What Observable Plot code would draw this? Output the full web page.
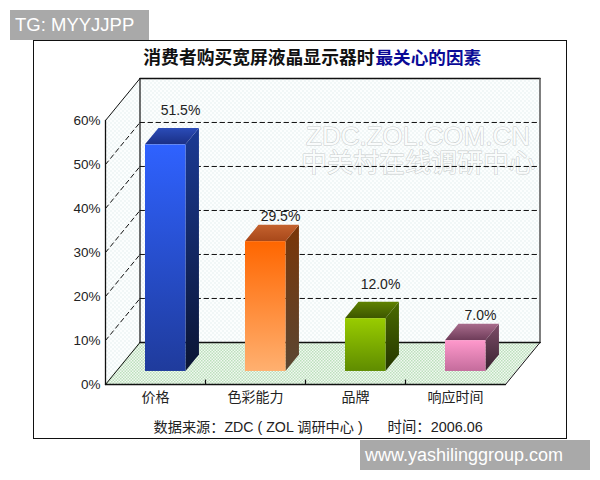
<!DOCTYPE html>
<html>
<head>
<meta charset="utf-8">
<script src="https://cdn.jsdelivr.net/npm/d3@7"></script>
<script src="https://cdn.jsdelivr.net/npm/@observablehq/plot@0.6"></script>
<style>
html,body{margin:0;padding:0;background:#fff;width:600px;height:480px;overflow:hidden}
#frame{position:absolute;left:33px;top:40px;width:532px;height:397px;border:1.5px solid #111;background:#fff}
#chart{position:absolute;left:0;top:0}
.badge{position:absolute;background:#a9a9a9;color:#fff;font-family:"Liberation Sans",sans-serif;white-space:nowrap;box-sizing:border-box;line-height:30px;height:30px}
#b1{left:10px;top:10px;width:139px;padding-left:5px;font-size:18.5px}
#b2{left:360px;top:440px;width:230px;padding-left:5px;font-size:18px}
</style>
</head>
<body>
<div id="frame"></div>
<div id="chart"></div>
<div id="b1" class="badge">TG: MYYJJPP</div>
<div id="b2" class="badge">www.yashilinggroup.com</div>
<script>
const categories = ["价格", "色彩能力", "品牌", "响应时间"];
const values = [51.5, 29.5, 12.0, 7.0];
const valueLabels = ["51.5%", "29.5%", "12.0%", "7.0%"];
const percentTicks = [0, 10, 20, 30, 40, 50, 60];
const categoryBreaks = [1, 2, 3];
const titleBlack = "消费者购买宽屏液晶显示器时";
const titleBlue = "最关心的因素";
const sourceNote = "数据来源：ZDC ( ZOL 调研中心 )";
const dateNote = "时间：2006.06";
const watermark = "ZDC.ZOL.COM.CN\n中关村在线调研中心";

// colours for each bar: front top/bottom, side top/bottom, lid front/back
const barColors = [
  ["#2f62ff","#1f3b9c","#1b3a94","#0a1433","#1a2f85","#2b4cb8"],
  ["#ff6600","#ffb070","#7a3608","#5a4632","#a8481a","#c4622e"],
  ["#99cc00","#5f8c00","#4a6b00","#243400","#3d5600","#5f8200"],
  ["#ff99cc","#c46c9c","#7d4c68","#38222f","#6e3c59","#a86c8c"]
];

const sansCjk = "Liberation Sans, Noto Sans CJK SC";

// oblique projection, in the units of the two scales
const depthX = 0.345, depthY = 9.55;
const project = (u, p, d) => ({x: u + d * depthX, y: p + d * depthY});
const barStart = 0.293, barWidth = 0.405, barNear = 0.31, barFar = 0.70;
const labelLift = [34, 25, 34, 25];

const face = (a, b, c, e) => [{x1: a.x, y1: a.y, x2: e.x, y2: e.y}, {x1: b.x, y1: b.y, x2: c.x, y2: c.y}];
const areaOpts = (fill, extra = {}) => ({x1: "x1", y1: "y1", x2: "x2", y2: "y2", fill, ...extra});
const solid = (a, b, extra = {}) => Plot.line([a, b], {x: "x", y: "y", stroke: "#111", strokeWidth: 1.3, ...extra});

function defs() {
  const root = d3.create("svg:defs");
  const pat = (id, size, bg, fg) => {
    const p = root.append("pattern").attr("id", id).attr("width", size).attr("height", size).attr("patternUnits", "userSpaceOnUse");
    p.append("rect").attr("width", size).attr("height", size).attr("fill", bg);
    p.append("rect").attr("width", size / 2).attr("height", size / 2).attr("fill", fg);
    p.append("rect").attr("x", size / 2).attr("y", size / 2).attr("width", size / 2).attr("height", size / 2).attr("fill", fg);
  };
  pat("wall", 4, "#fcfefe", "#f1f7f7");
  pat("floor", 3, "#f1f9f1", "#bde0bd");
  const grad = (id, c0, c1) => {
    const g = root.append("linearGradient").attr("id", id).attr("x1", 0).attr("y1", 0).attr("x2", 0).attr("y2", 1);
    g.append("stop").attr("offset", 0).attr("stop-color", c0);
    g.append("stop").attr("offset", 1).attr("stop-color", c1);
  };
  barColors.forEach((c, i) => {
    grad(`front${i}`, c[0], c[1]);
    grad(`side${i}`, c[2], c[3]);
    grad(`lid${i}`, c[5], c[4]);
  });
  return root.node();
}

const barMarks = values.flatMap((v, i) => {
  const l = i + barStart, r = l + barWidth;
  const n = barNear, f = barFar;
  const lid = face(project(l, v, n), project(r, v, n), project(r, v, f), project(l, v, f));
  const side = face(project(r, 0, n), project(r, v, n), project(r, v, f), project(r, 0, f));
  const a = project(l, 0, n), b = project(r, v, n);
  return [
    Plot.area(side, areaOpts(`url(#side${i})`)),
    Plot.area(lid, areaOpts(`url(#lid${i})`)),
    Plot.rect([{x1: a.x, x2: b.x, y1: a.y, y2: b.y}], {x1: "x1", x2: "x2", y1: "y1", y2: "y2", fill: `url(#front${i})`, inset: 0})
  ];
});

const valueLabelMarks = values.map((v, i) => {
  const c = project(i + barStart, v, barNear);
  return Plot.text([valueLabels[i]], {
    x: c.x + 0.35, y: c.y, dy: -labelLift[i], text: d => d,
    fontSize: 14, fontFamily: "Liberation Sans", fill: "#222"
  });
});

const wallLevels = percentTicks.slice(1, -1);

const chart = Plot.plot({
  width: 600, height: 480,
  marginLeft: 105, marginRight: 95, marginTop: 120, marginBottom: 96,
  style: {background: "transparent"},
  x: {domain: [0, 4], range: [105, 505], axis: null},
  y: {domain: [0, 60], range: [384, 120], axis: null},
  marks: [
    defs,
    // side wall, back wall, floor
    Plot.area(face(project(0,0,0), project(0,60,0), project(0,60,1), project(0,0,1)), areaOpts("url(#wall)")),
    Plot.area(face(project(0,0,1), project(4,0,1), project(4,60,1), project(0,60,1)), areaOpts("url(#wall)")),
    Plot.area(face(project(0,0,0), project(4,0,0), project(4,0,1), project(0,0,1)), areaOpts("url(#floor)")),
    // watermark
    Plot.text([watermark], {x: 3.125, y: 53.3, text: d => d, lineHeight: 1.05, fontSize: 26, fontFamily: sansCjk, fill: "#fafcfc", stroke: "#c8cdcd", strokeWidth: 1.1}),
    // dashed grid on the two walls
    ...wallLevels.map(p => solid(project(0, p, 1), project(4, p, 1), {strokeDasharray: "4.5,3.5", strokeWidth: 1})),
    ...wallLevels.map(p => solid(project(0, p, 0), project(0, p, 1), {strokeDasharray: "4.5,3.5", strokeWidth: 1})),
    // solid edges
    solid(project(0,0,0), project(0,60,0)),
    solid(project(0,60,0), project(0,60,1), {strokeWidth: 1}),
    solid(project(0,0,0), project(0,0,1), {strokeWidth: 1}),
    solid(project(0,0,1), project(0,60,1), {strokeWidth: 1.2}),
    solid(project(0,60,1), project(4,60,1), {strokeWidth: 1.6}),
    solid(project(4,0,1), project(4,60,1), {stroke: "#555", strokeWidth: 1.5}),
    solid(project(0,0,1), project(4,0,1), {strokeWidth: 1.4}),
    solid(project(0,0,0), project(4,0,0), {strokeWidth: 1.4}),
    solid(project(4,0,0), project(4,0,1), {strokeWidth: 1}),
    // axes
    Plot.axisY({ticks: percentTicks, tickFormat: d => `${d}%`, tickSize: 0, tickPadding: 5, fontSize: 13.5, fontFamily: "Liberation Sans", color: "#222", label: null, anchor: "left"}),
    Plot.axisX({ticks: categories.map((c, i) => i + 0.5), tickFormat: d => categories[d - 0.5], tickSize: 0, tickPadding: 8, fontSize: 14, fontFamily: "Noto Sans CJK SC", color: "#222", label: null, anchor: "bottom"}),
    Plot.ruleX(categoryBreaks, {x: d => d, y1: 0, y2: 1, stroke: "#111", strokeWidth: 1.2}),
    // bars, drawn from back to front
    ...barMarks,
    ...valueLabelMarks,
    // title and source
    Plot.text([titleBlack], {x: 2.69, y: 74.1, text: d => d, textAnchor: "end", fontSize: 17.8, fontWeight: "bold", fontFamily: "Noto Sans CJK SC", fill: "#111"}),
    Plot.text([titleBlue], {x: 2.70, y: 74.1, text: d => d, textAnchor: "start", fontSize: 17.6, fontWeight: "bold", fontFamily: "Noto Sans CJK SC", fill: "#0a0a96"}),
    Plot.text([sourceNote], {x: 0.48, y: -9.7, text: d => d, textAnchor: "start", fontSize: 14.2, fontFamily: sansCjk, fill: "#222"}),
    Plot.text([dateNote], {x: 2.82, y: -9.7, text: d => d, textAnchor: "start", fontSize: 14.4, fontFamily: sansCjk, fill: "#222"})
  ]
});
document.getElementById("chart").append(chart);
</script>
</body>
</html>
